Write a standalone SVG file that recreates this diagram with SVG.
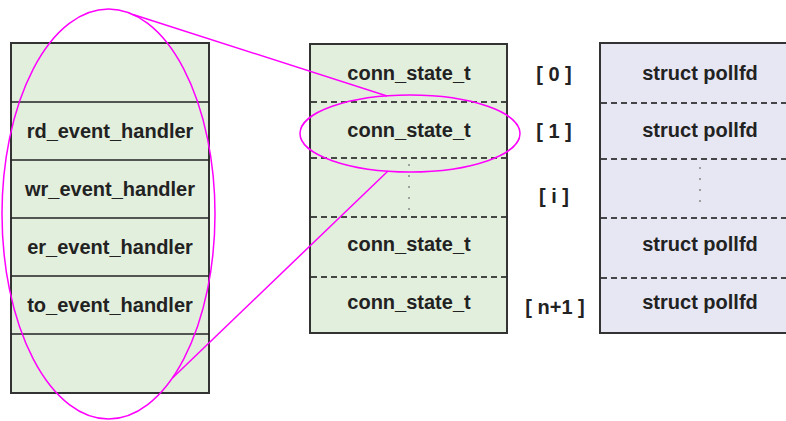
<svg xmlns="http://www.w3.org/2000/svg" width="786" height="421" viewBox="0 0 786 421">
<style>
.box{stroke:#333;stroke-width:2}
.g{fill:#e3efdd}
.p{fill:#e7e7f3}
.solid{stroke:#222;stroke-width:1.5}
.dash{stroke:#111;stroke-width:1.5;stroke-dasharray:6 4}
.dot{stroke:#888;stroke-width:1.5;stroke-dasharray:2 9}
.t{font-family:"Liberation Sans",Arial,sans-serif;font-weight:bold;font-size:20px;fill:#222;text-anchor:middle}
.mag{fill:none;stroke:#ff00ff;stroke-width:1.5}
</style>
<rect width="786" height="421" fill="#ffffff"/>
<g id="handlers">
<rect class="box g" x="11" y="43" width="198" height="350"/>
<line class="solid" x1="11" y1="102" x2="209" y2="102"/>
<line class="solid" x1="11" y1="160" x2="209" y2="160"/>
<line class="solid" x1="11" y1="218" x2="209" y2="218"/>
<line class="solid" x1="11" y1="276" x2="209" y2="276"/>
<line class="solid" x1="11" y1="334" x2="209" y2="334"/>
<text class="t" x="110" y="138">rd_event_handler</text>
<text class="t" x="110" y="196">wr_event_handler</text>
<text class="t" x="110" y="254">er_event_handler</text>
<text class="t" x="110" y="312">to_event_handler</text>
</g>
<g id="conn_states">
<rect class="box g" x="310" y="44" width="197" height="289"/>
<line class="dash" x1="311" y1="102" x2="506" y2="102"/>
<line class="dash" x1="311" y1="158" x2="506" y2="158"/>
<line class="dash" x1="311" y1="217" x2="506" y2="217"/>
<line class="dash" x1="311" y1="277" x2="506" y2="277"/>
<line class="dot" x1="409" y1="164" x2="409" y2="210"/>
<text class="t" x="409" y="80">conn_state_t</text>
<text class="t" x="409" y="137">conn_state_t</text>
<text class="t" x="409" y="251">conn_state_t</text>
<text class="t" x="409" y="309">conn_state_t</text>
</g>
<g id="indices">
<text class="t" x="554" y="81">[ 0 ]</text>
<text class="t" x="554" y="138">[ 1 ]</text>
<text class="t" x="554" y="203">[ i ]</text>
<text class="t" x="555" y="314">[ n+1 ]</text>
</g>
<g id="pollfds">
<rect class="box p" x="600" y="43" width="200" height="290"/>
<line class="dash" x1="601" y1="103" x2="786" y2="103"/>
<line class="dash" x1="601" y1="159" x2="786" y2="159"/>
<line class="dash" x1="601" y1="218" x2="786" y2="218"/>
<line class="dash" x1="601" y1="278" x2="786" y2="278"/>
<line class="dot" x1="700" y1="167" x2="700" y2="210"/>
<text class="t" x="700" y="80">struct pollfd</text>
<text class="t" x="700" y="137">struct pollfd</text>
<text class="t" x="700" y="251">struct pollfd</text>
<text class="t" x="700" y="309">struct pollfd</text>
</g>
<g id="connectors">
<ellipse class="mag" cx="108.5" cy="214" rx="106.5" ry="205"/>
<ellipse class="mag" cx="410" cy="133.5" rx="110" ry="38.5"/>
<line class="mag" x1="133" y1="14.5" x2="387" y2="96"/>
<line class="mag" x1="172.5" y1="378" x2="388" y2="171"/>
</g>
</svg>
